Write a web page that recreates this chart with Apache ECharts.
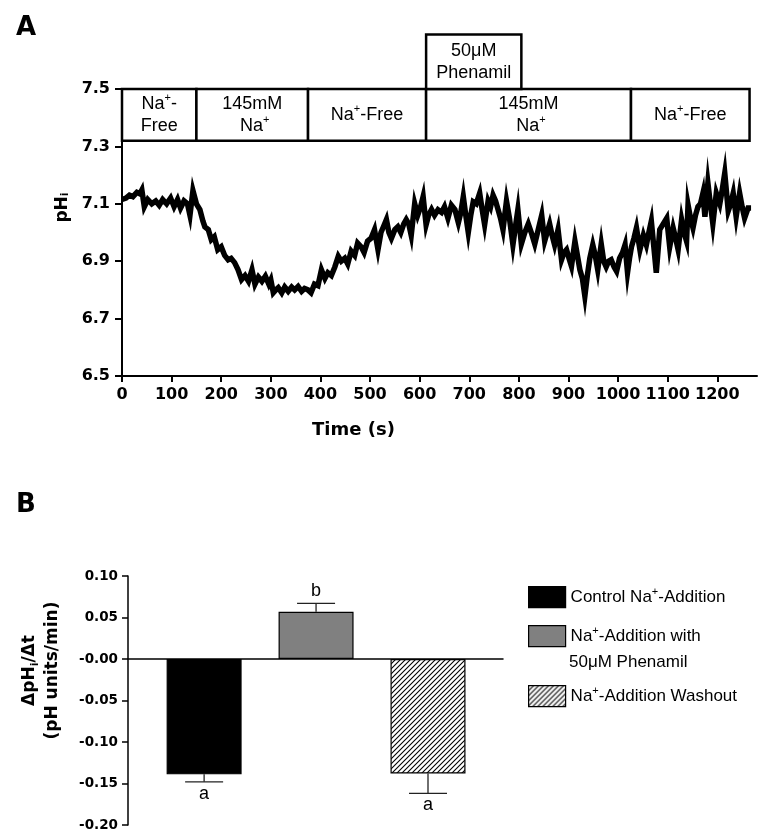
<!DOCTYPE html>
<html><head><meta charset="utf-8">
<script src="https://cdn.jsdelivr.net/npm/echarts@6/dist/echarts.min.js"></script>
<style>html,body{margin:0;padding:0;background:#fff}#c{width:776px;height:834px}</style>
</head><body><div id="c"></div>
<script>
// ---------- Panel A data ----------
const phTrace = [
[0,7.115],[8,7.12],[15,7.13],[22,7.125],[30,7.14],[36,7.135],[40,7.148],[45,7.09],[52,7.115],[60,7.10],
[68,7.11],[75,7.095],[82,7.115],[90,7.10],[98,7.12],[105,7.09],[112,7.115],[118,7.085],[125,7.11],[132,7.10],
[137,7.06],[143,7.146],[150,7.10],[157,7.08],[163,7.04],[167,7.02],[174,7.01],[180,6.975],[186,6.985],[193,6.94],
[200,6.95],[207,6.92],[214,6.905],[220,6.91],[227,6.895],[234,6.87],[241,6.836],[248,6.85],[255,6.83],[262,6.87],
[268,6.82],[275,6.845],[282,6.83],[289,6.848],[296,6.82],[300,6.835],[305,6.79],[310,6.80],[315,6.808],[322,6.79],
[328,6.81],[335,6.795],[342,6.81],[348,6.80],[355,6.812],[362,6.795],[368,6.805],[375,6.80],[381,6.79],[388,6.82],
[395,6.815],[402,6.87],[409,6.84],[415,6.86],[422,6.85],[429,6.88],[436,6.917],[442,6.90],[449,6.91],[455,6.89],
[462,6.935],[469,6.92],[475,6.963],[482,6.95],[488,6.93],[495,6.97],[502,6.98],[509,7.01],[516,6.94],[522,7.00],
[527,7.02],[533,7.045],[538,7.00],[543,6.98],[550,7.01],[556,7.02],[562,7.00],[568,7.03],[573,7.045],[578,7.03],
[583,6.99],[590,7.10],[596,7.06],[602,7.09],[607,7.125],[613,7.027],[618,7.06],[624,7.08],[630,7.06],[637,7.079],
[644,7.07],[650,7.09],[657,7.05],[664,7.095],[671,7.08],[678,7.034],[683,7.07],[688,7.125],[693,7.06],[698,7.00],
[703,7.06],[708,7.107],[714,7.10],[721,7.137],[726,7.08],[731,7.027],[738,7.11],[743,7.09],[748,7.13],[753,7.11],
[758,7.08],[763,7.05],[768,7.01],[775,7.11],[781,7.05],[788,6.957],[793,7.02],[798,7.08],[805,6.96],[812,7.00],
[819,7.03],[825,7.00],[832,6.96],[839,7.01],[846,7.06],[852,6.97],[857,7.00],[862,7.03],[867,6.99],[872,6.957],
[879,7.01],[886,6.905],[891,6.93],[896,6.94],[901,6.91],[906,6.882],[913,6.97],[918,6.92],[923,6.87],[928,6.84],
[933,6.778],[938,6.85],[943,6.91],[949,6.957],[954,6.92],[959,6.87],[966,6.96],[971,6.90],[976,6.88],[981,6.90],
[986,6.905],[992,6.88],[997,6.865],[1003,6.91],[1009,6.93],[1014,6.957],[1019,6.86],[1023,6.91],[1027,6.95],[1032,6.98],
[1037,7.016],[1044,6.94],[1051,6.99],[1057,6.957],[1062,7.00],[1067,7.04],[1072,6.95],[1077,6.86],[1084,7.01],[1091,7.03],
[1098,7.05],[1104,6.95],[1111,7.016],[1116,6.98],[1121,6.94],[1128,7.045],[1133,7.00],[1138,6.97],[1141,7.097],[1146,7.05],
[1151,7.016],[1156,7.06],[1161,7.09],[1166,7.10],[1171,7.137],[1175,7.055],[1181,7.173],[1186,7.10],[1191,7.03],[1198,7.137],
[1205,7.10],[1210,7.15],[1215,7.207],[1222,7.075],[1227,7.10],[1232,7.137],[1238,7.055],[1245,7.137],[1250,7.09],[1255,7.05],
[1262,7.085],[1268,7.085]
];
const phTicks = [6.5, 6.7, 6.9, 7.1, 7.3, 7.5];
// condition boxes: [start s, end s, low pH, high pH]
const condBoxes = [[0,150,7.32,7.5],[150,375,7.32,7.5],[375,613,7.32,7.5],[613,1026,7.32,7.5],[1026,1265,7.32,7.5],[613,805,7.5,7.69]];
const condLabels = ['Na{sup|+}-\nFree','145mM\n Na{sup|+}','Na{sup|+}-Free','145mM\n Na{sup|+}','Na{sup|+}-Free','50\u03bcM\nPhenamil'];

// ---------- Panel B data ----------
const groupNames = ['Control Na+-Addition','Na+-Addition with','Na+-Addition Washout'];
const groupMeans = [-0.139, 0.057, -0.138];
const groupSEM = [0.009, 0.010, 0.024];
const groupLetters = ['a','b','a'];

// hatch pattern
const hatch = document.createElement('canvas');
hatch.width = 5; hatch.height = 5;
(function(){const c = hatch.getContext('2d'); c.fillStyle='#fff'; c.fillRect(0,0,5,5);
 c.strokeStyle='#000'; c.lineWidth=1.1; c.beginPath();
 c.moveTo(-1,6); c.lineTo(6,-1); c.moveTo(-1,1); c.lineTo(1,-1); c.moveTo(4,6); c.lineTo(6,4); c.stroke();})();

const SANS = 'Liberation Sans';
const BOLD = 'DejaVu Sans';
const supRich = {sup:{fontSize:11, lineHeight:12, verticalAlign:'top', fontFamily:SANS, color:'#000'}};

const chart = echarts.init(document.getElementById('c'), null, {renderer:'canvas'});
const barColors = ['#000', '#808080', {image: hatch, repeat: 'repeat'}];

const option = {
  animation:false,
  backgroundColor:'#fff',
  title:[
    {text:'A', left:11, top:10, textStyle:{fontFamily:BOLD, fontWeight:'bold', fontSize:26, color:'#000'}},
    {text:'B', left:11, top:487, textStyle:{fontFamily:BOLD, fontWeight:'bold', fontSize:26, color:'#000'}}
  ],
  grid:[
    {left:122, top:89, width:635, height:287},
    {left:128, top:576, width:375, height:249}
  ],
  xAxis:[
    {gridIndex:0, type:'value', min:0, max:1280, interval:100,
     name:'Time (s)', nameLocation:'middle', nameGap:45,
     nameTextStyle:{fontFamily:BOLD, fontWeight:'bold', fontSize:18, color:'#000', padding:[0,172,0,0]},
     axisLine:{lineStyle:{color:'#000', width:2}},
     axisTick:{length:6, lineStyle:{color:'#000', width:2}},
     axisLabel:{margin:11, fontFamily:BOLD, fontWeight:'bold', fontSize:16, color:'#000', formatter:v=>String(v)},
     splitLine:{show:false}},
    {gridIndex:1, type:'value', min:0.32, max:3.67,
     axisLine:{onZero:true, lineStyle:{color:'#000', width:1.5}},
     axisTick:{show:false}, axisLabel:{show:false}, splitLine:{show:false}}
  ],
  yAxis:[
    {gridIndex:0, type:'value', min:6.5, max:7.5,
     name:'pH{sub|i}', nameLocation:'middle', nameGap:28,
     nameTextStyle:{fontFamily:BOLD, fontWeight:'bold', fontSize:17, color:'#000', padding:[0,0,0,50],
       rich:{sub:{fontFamily:BOLD, fontWeight:'bold', fontSize:11, lineHeight:11, verticalAlign:'bottom', color:'#000'}}},
     axisLine:{lineStyle:{color:'#000', width:2}},
     axisTick:{length:7, customValues:phTicks, lineStyle:{color:'#000', width:2}},
     axisLabel:{margin:12, customValues:phTicks, fontFamily:BOLD, fontWeight:'bold', fontSize:16, color:'#000',
       formatter:v=>v.toFixed(1)},
     splitLine:{show:false}},
    {gridIndex:1, type:'value', min:-0.2, max:0.1, interval:0.05,
     name:'\u0394pH{sub|i}/\u0394t\n(pH units/min)', nameLocation:'middle', nameGap:64,
     nameTextStyle:{fontFamily:BOLD, fontWeight:'bold', fontSize:17, lineHeight:23, color:'#000', padding:[0,0,0,60], align:'center',
       rich:{sub:{fontFamily:BOLD, fontWeight:'bold', fontSize:11, lineHeight:11, verticalAlign:'bottom', color:'#000'}}},
     axisLine:{lineStyle:{color:'#000', width:1.5}},
     axisTick:{length:6, lineStyle:{color:'#000', width:1.5}},
     axisLabel:{margin:10, fontFamily:BOLD, fontWeight:'bold', fontSize:13.5, color:'#000',
       formatter:v=>(Math.abs(v)<1e-9?'-0.00':v.toFixed(2))},
     splitLine:{show:false}}
  ],
  legend:[0,1,2].map((i)=>({
    left:528, top:[586,625,685][i], padding:0, itemWidth:37, itemHeight:21,
    selectedMode:false,
    data:[{name:groupNames[i], icon:'rect',
      itemStyle:{color:barColors[i], borderColor:'#000', borderWidth:1.2}}],
    formatter:n=>n.replace('Na+','Na{sup|+}'),
    textStyle:{fontFamily:SANS, fontSize:17, color:'#000', lineHeight:21, rich:supRich}
  })),
  graphic:[
    {type:'text', left:569, top:654, style:{text:'50\u03bcM Phenamil', fontFamily:SANS, fontSize:17, fill:'#000'}}
  ],
  series:[
    {type:'line', xAxisIndex:0, yAxisIndex:0, data:phTrace, showSymbol:false, silent:true,
     lineStyle:{color:'#000', width:5.5, join:'miter'}},
    {type:'custom', xAxisIndex:0, yAxisIndex:0, clip:false, silent:true, data:condBoxes,
     renderItem:function(params, api){
       const p1 = api.coord([api.value(0), api.value(3)]);
       const p2 = api.coord([api.value(1), api.value(2)]);
       return {type:'group', children:[
         {type:'rect', shape:{x:p1[0], y:p1[1], width:p2[0]-p1[0], height:p2[1]-p1[1]},
          style:{fill:'#fff', stroke:'#000', lineWidth:2.5}},
         {type:'text', x:(p1[0]+p2[0])/2, y:(p1[1]+p2[1])/2,
          style:{text:condLabels[params.dataIndex], align:'center', verticalAlign:'middle',
            fontFamily:SANS, fontSize:18, lineHeight:22, fill:'#000',
            rich:{sup:{fontFamily:SANS, fontSize:11, lineHeight:12, verticalAlign:'top', fill:'#000'}}}}
       ]};
     }},
    ...[0,1,2].map(i=>({
      type:'bar', name:groupNames[i], xAxisIndex:1, yAxisIndex:1, barWidth:75, barGap:'-100%',
      data:[[i+1, groupMeans[i]]],
      itemStyle:{color:barColors[i], borderColor:'#000', borderWidth:1.2}, silent:true
    })),
    {type:'custom', xAxisIndex:1, yAxisIndex:1, clip:false, silent:true,
     data:groupMeans.map((m,i)=>[i+1, m, groupSEM[i]]),
     renderItem:function(params, api){
       const x = api.value(0), m = api.value(1), e = api.value(2);
       const s = m < 0 ? -1 : 1;
       const a = api.coord([x, m]), b = api.coord([x, m + s*e]);
       return {type:'group', children:[
         {type:'line', shape:{x1:a[0], y1:a[1], x2:b[0], y2:b[1]}, style:{stroke:'#222', lineWidth:1.3}},
         {type:'line', shape:{x1:b[0]-19, y1:b[1], x2:b[0]+19, y2:b[1]}, style:{stroke:'#222', lineWidth:1.3}},
         {type:'text', x:b[0], y: s<0 ? b[1]+3 : b[1]-3,
          style:{text:groupLetters[params.dataIndex], align:'center', verticalAlign: s<0?'top':'bottom',
            fontFamily:SANS, fontSize:18, fill:'#000'}}
       ]};
     }}
  ]
};
chart.setOption(option);
</script></body></html>
